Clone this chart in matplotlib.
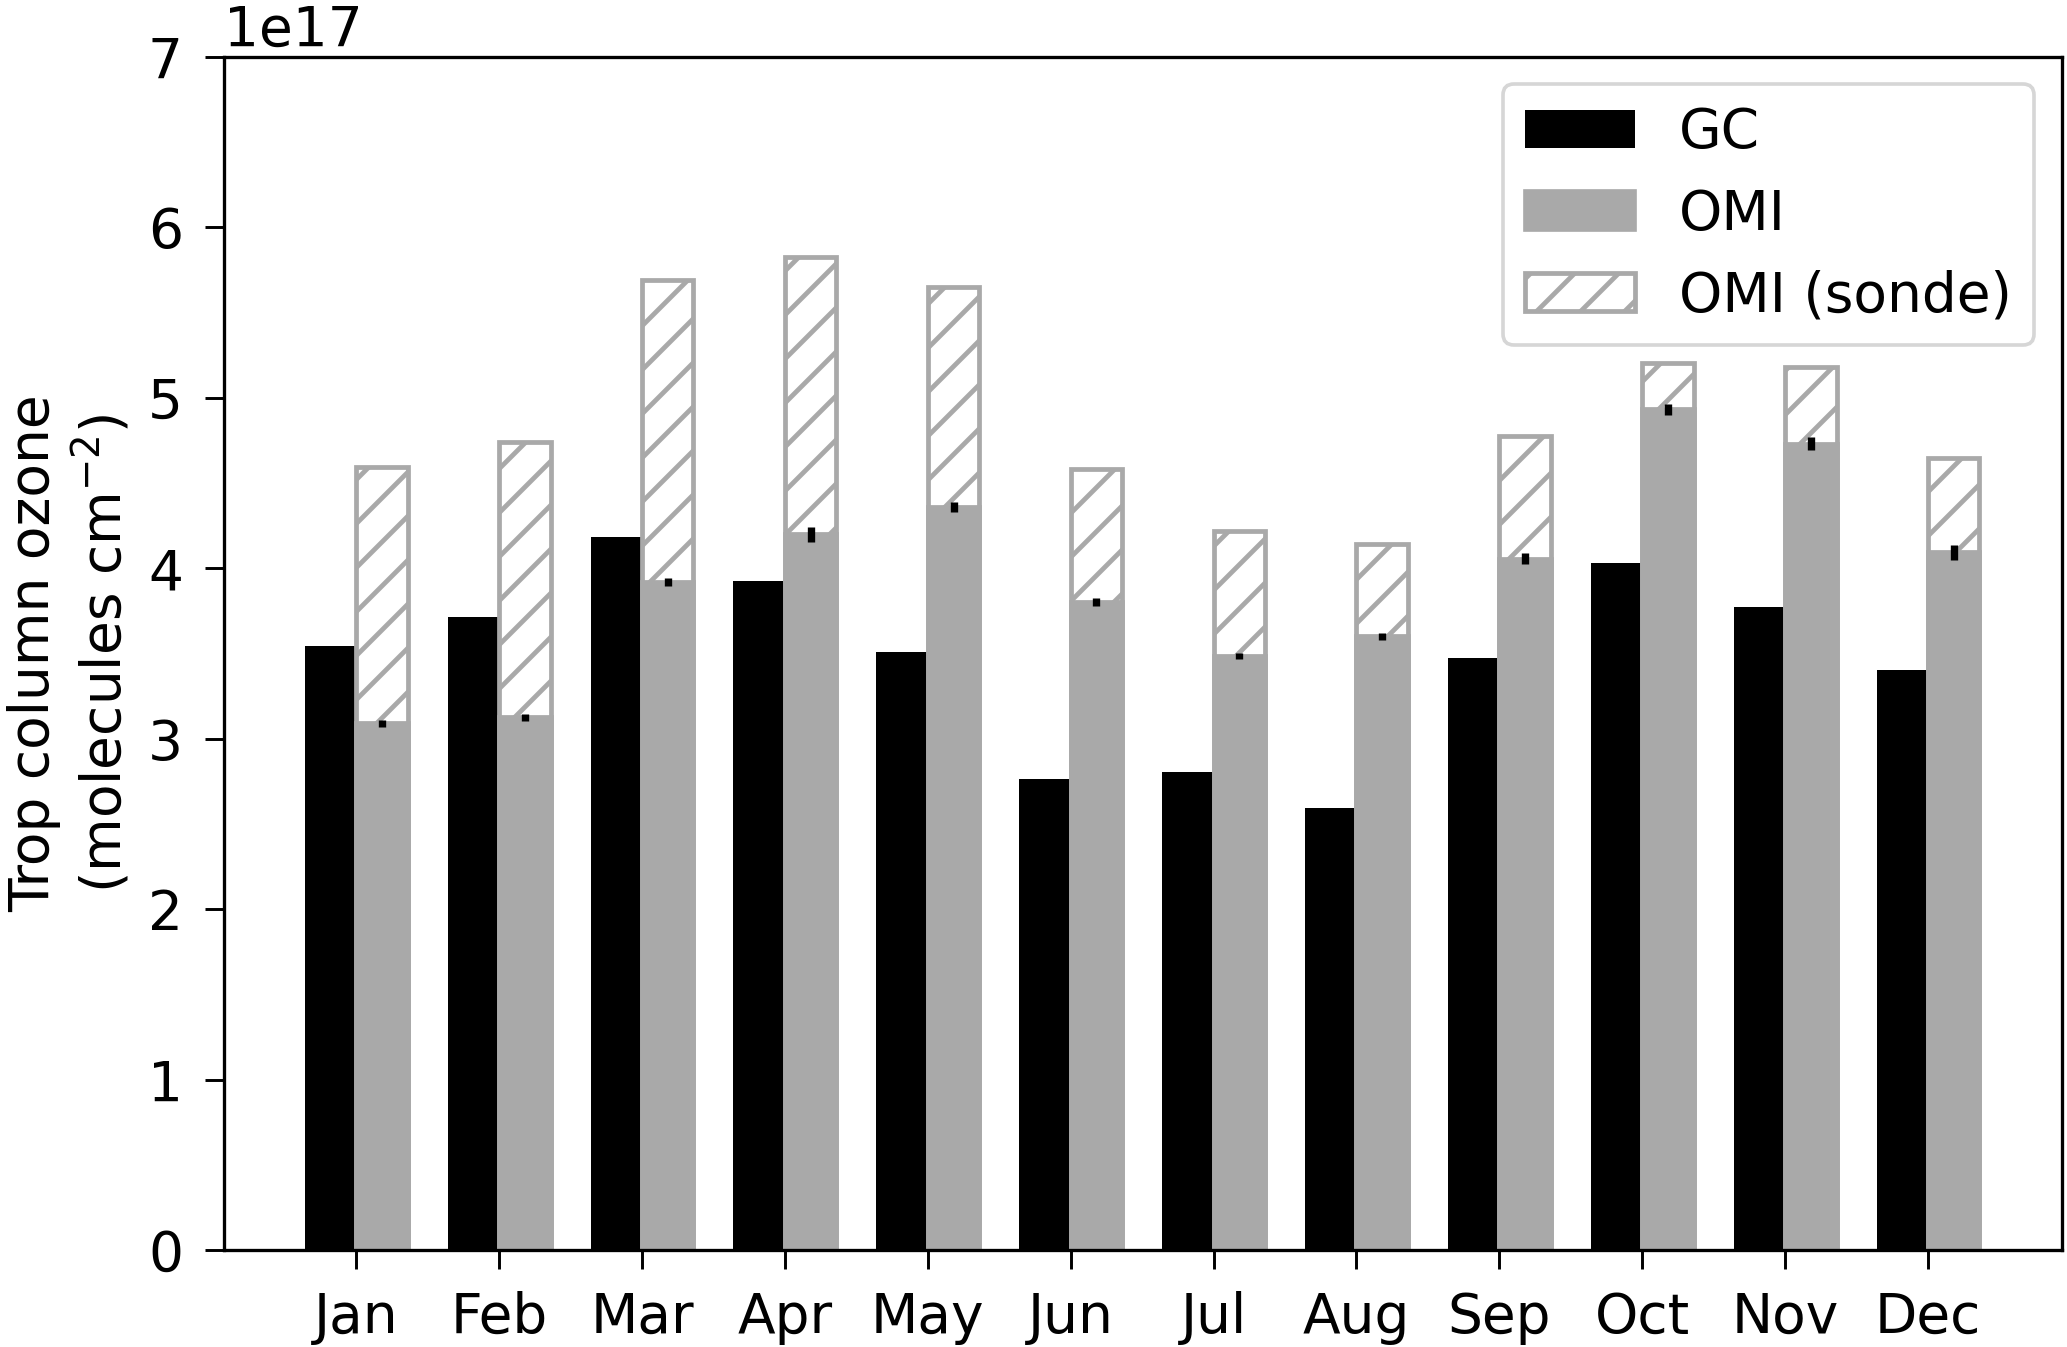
import numpy as np
import matplotlib
matplotlib.use("Agg")
import matplotlib.pyplot as plt
from matplotlib.patches import Patch

months = ["Jan", "Feb", "Mar", "Apr", "May", "Jun", "Jul", "Aug", "Sep", "Oct", "Nov", "Dec"]
gc = np.array([3.545, 3.71, 4.18, 3.925, 3.505, 2.765, 2.805, 2.595, 3.47, 4.03, 3.77, 3.40]) * 1e17
omi = np.array([3.09, 3.125, 3.917, 4.198, 4.357, 3.80, 3.484, 3.60, 4.056, 4.93, 4.73, 4.093]) * 1e17
omi_err = np.array([0.02, 0.02, 0.025, 0.045, 0.03, 0.025, 0.02, 0.02, 0.03, 0.035, 0.04, 0.045]) * 1e17
sonde = np.array([4.595, 4.742, 5.69, 5.827, 5.651, 4.582, 4.218, 4.141, 4.775, 5.20, 5.178, 4.644]) * 1e17

dpi = 264
plt.rcParams['font.size'] = 15
plt.rcParams['hatch.linewidth'] = 1.3
plt.rcParams['xtick.major.size'] = 5.2
plt.rcParams['ytick.major.size'] = 5.2
plt.rcParams['xtick.major.pad'] = 6
plt.rcParams['ytick.major.pad'] = 6
plt.rcParams['axes.linewidth'] = 0.9

fig = plt.figure(figsize=(2067 / dpi, 1347 / dpi), dpi=dpi)
ax = fig.add_axes([0.1084, 0.072, 0.889, 0.886])

x = np.arange(len(months))
w = 0.36
grey = "darkgray"

ax.bar(x, gc, width=-w, align='edge', color='black')
ax.bar(x, sonde, width=w, align='edge', facecolor='white', edgecolor=grey,
       hatch='//', linewidth=1.3)
ax.bar(x, omi, width=w, align='edge', color=grey, edgecolor=grey, linewidth=1.3)
ax.errorbar(x + w / 2, omi, yerr=omi_err, fmt='none', ecolor='black', elinewidth=2)

ax.set_xlim(-0.925, 11.935)
ax.set_ylim(0, 7e17)
ax.set_xticks(x)
ax.set_xticklabels(months)
ax.set_ylabel("Trop column ozone\n(molecules cm$^{-2}$)")

handles = [Patch(facecolor='black', label='GC'),
           Patch(facecolor=grey, edgecolor=grey, label='OMI'),
           Patch(facecolor='white', edgecolor=grey, hatch='//', linewidth=1.3, label='OMI (sonde)')]
ax.legend(handles=handles, loc='upper right')

fig.savefig("out.png", dpi=dpi)
